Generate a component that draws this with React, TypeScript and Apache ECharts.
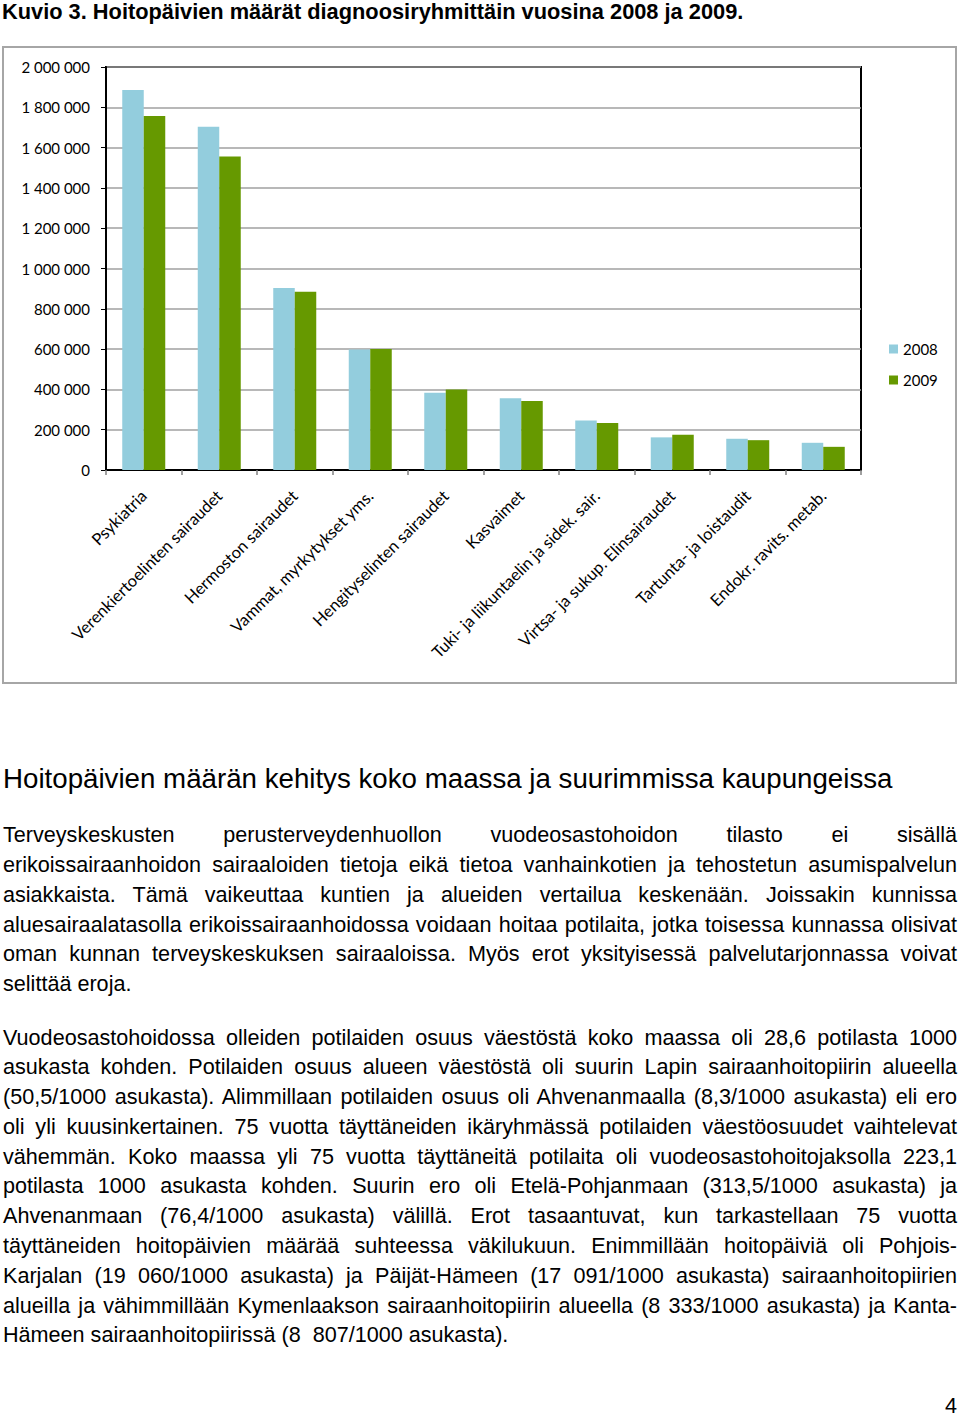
import React, { useEffect, useRef } from "react";
import * as echarts from "echarts";

const figureTitle = "Kuvio 3. Hoitopäivien määrät diagnoosiryhmittäin vuosina 2008 ja 2009.";
const categories = [
  "Psykiatria",
  "Verenkiertoelinten sairaudet",
  "Hermoston sairaudet",
  "Vammat, myrkytykset yms.",
  "Hengityselinten sairaudet",
  "Kasvaimet",
  "Tuki- ja liikuntaelin ja sidek. sair.",
  "Virtsa- ja sukup. Elinsairaudet",
  "Tartunta- ja loistaudit",
  "Endokr. ravits. metab.",
];
const seriesNames = ["2008", "2009"];
const values2008 = [1886000, 1704000, 903000, 598000, 383000, 356000, 246000, 162000, 155000, 135000];
const values2009 = [1757000, 1556000, 885000, 600000, 400000, 343000, 233000, 175000, 148000, 115000];
const yMin = 0;
const yMax = 2000000;
const yInterval = 200000;

const heading = "Hoitopäivien määrän kehitys koko maassa ja suurimmissa kaupungeissa";
const paragraph1 = [
  "Terveyskeskusten perusterveydenhuollon vuodeosastohoidon tilasto ei sisällä",
  "erikoissairaanhoidon sairaaloiden tietoja eikä tietoa vanhainkotien ja tehostetun asumispalvelun",
  "asiakkaista. Tämä vaikeuttaa kuntien ja alueiden vertailua keskenään. Joissakin kunnissa",
  "aluesairaalatasolla erikoissairaanhoidossa voidaan hoitaa potilaita, jotka toisessa kunnassa olisivat",
  "oman kunnan terveyskeskuksen sairaaloissa. Myös erot yksityisessä palvelutarjonnassa voivat",
  "selittää eroja.",
];
const paragraph2 = [
  "Vuodeosastohoidossa olleiden potilaiden osuus väestöstä koko maassa oli 28,6 potilasta 1000",
  "asukasta kohden. Potilaiden osuus alueen väestöstä oli suurin Lapin sairaanhoitopiirin alueella",
  "(50,5/1000 asukasta). Alimmillaan potilaiden osuus oli Ahvenanmaalla (8,3/1000 asukasta) eli ero",
  "oli yli kuusinkertainen. 75 vuotta täyttäneiden ikäryhmässä potilaiden väestöosuudet vaihtelevat",
  "vähemmän. Koko maassa yli 75 vuotta täyttäneitä potilaita oli vuodeosastohoitojaksolla 223,1",
  "potilasta 1000 asukasta kohden. Suurin ero oli Etelä-Pohjanmaan (313,5/1000 asukasta) ja",
  "Ahvenanmaan (76,4/1000 asukasta) välillä. Erot tasaantuvat, kun tarkastellaan 75 vuotta",
  "täyttäneiden hoitopäivien määrää suhteessa väkilukuun. Enimmillään hoitopäiviä oli Pohjois-",
  "Karjalan (19 060/1000 asukasta) ja Päijät-Hämeen (17 091/1000 asukasta) sairaanhoitopiirien",
  "alueilla ja vähimmillään Kymenlaakson sairaanhoitopiirin alueella (8 333/1000 asukasta) ja Kanta-",
  "Hämeen sairaanhoitopiirissä (8\u00a0 807/1000 asukasta).",
];
const pageNumber = "4";

const fmt = (v: number) => String(v).replace(/\B(?=(\d{3})+(?!\d))/g, " ");

function Chart() {
  const ref = useRef<HTMLDivElement>(null);
  useEffect(() => {
    if (!ref.current) return;
    const chart = echarts.init(ref.current, null, { renderer: "svg" });
    chart.setOption({
      animation: false,
      textStyle: { fontFamily: "Lato" },
      grid: {
        left: 106,
        right: 99,
        top: 67,
        height: 403,
        show: true,
        borderColor: "#000",
        borderWidth: 2,
        containLabel: false,
      },
      legend: {
        orient: "vertical",
        left: 889,
        top: 341.5,
        padding: 0,
        itemWidth: 9,
        itemHeight: 9,
        itemGap: 16,
        icon: "rect",
        textStyle: { fontFamily: "Lato", fontSize: 15, color: "#000" },
        data: seriesNames,
      },
      xAxis: {
        type: "category",
        data: categories,
        axisLine: { lineStyle: { color: "#000", width: 2 } },
        axisTick: { show: true, length: 5, lineStyle: { color: "#808080", width: 1.5 } },
        axisLabel: {
          rotate: 45,
          interval: 0,
          margin: 23,
          color: "#000",
          fontFamily: "Lato",
          fontSize: 16.5,
        },
      },
      yAxis: {
        type: "value",
        min: yMin,
        max: yMax,
        interval: yInterval,
        axisLine: { show: true, lineStyle: { color: "#000", width: 2 } },
        axisTick: { show: true, length: 5, lineStyle: { color: "#000", width: 1 } },
        axisLabel: {
          margin: 16,
          color: "#000",
          fontFamily: "Lato",
          fontSize: 15,
          formatter: (v: number) => fmt(v),
        },
        splitLine: { lineStyle: { color: "#a0a0a0", width: 1.5 } },
      },
      series: [
        {
          name: seriesNames[0],
          type: "bar",
          data: values2008,
          barWidth: 21.5,
          barGap: "0%",
          itemStyle: { color: "#93CDDD" },
        },
        {
          name: seriesNames[1],
          type: "bar",
          data: values2009,
          barWidth: 21.5,
          barGap: "0%",
          itemStyle: { color: "#669900" },
        },
      ],
      graphic: [
        {
          type: "rect",
          shape: { x: 3, y: 47, width: 953, height: 636 },
          style: { fill: "none", stroke: "#a6a6a6", lineWidth: 2 },
          silent: true,
        },
        {
          type: "text",
          x: 2,
          y: 11.5,
          style: {
            text: figureTitle,
            fontFamily: "Liberation Sans",
            fontWeight: "bold",
            fontSize: 21.8,
            fill: "#000",
            verticalAlign: "middle",
            align: "left",
          },
        },
      ],
    });
    return () => chart.dispose();
  }, []);
  return <div ref={ref} style={{ position: "absolute", left: 0, top: 0, width: 960, height: 700 }} />;
}

function Para({ lines, top }: { lines: string[]; top: number }) {
  return (
    <div style={{ position: "absolute", left: 3, top, width: 954 }}>
      {lines.map((l, i) => (
        <div
          key={i}
          style={{
            height: 29.8,
            lineHeight: "29.8px",
            fontFamily: "'Liberation Sans', Arial, sans-serif",
            fontSize: 21.6,
            color: "#000",
            textAlign: "justify",
            textAlignLast: i === lines.length - 1 ? "left" : "justify",
          }}
        >
          {l}
        </div>
      ))}
    </div>
  );
}

export default function App() {
  return (
    <div
      style={{
        position: "absolute",
        left: 0,
        top: 0,
        width: 960,
        height: 1418,
        background: "#fff",
        overflow: "hidden",
      }}
    >
      <Chart />
      <div
        style={{
          position: "absolute",
          left: 3,
          top: 761.5,
          lineHeight: "34px",
          fontFamily: "'Liberation Sans', Arial, sans-serif",
          fontSize: 27.7,
          color: "#000",
          whiteSpace: "nowrap",
        }}
      >
        {heading}
      </div>
      <Para lines={paragraph1} top={820.3} />
      <Para lines={paragraph2} top={1022.5} />
      <div
        style={{
          position: "absolute",
          right: 3,
          top: 1391,
          lineHeight: "29.8px",
          fontFamily: "'Liberation Sans', Arial, sans-serif",
          fontSize: 21.6,
          color: "#000",
        }}
      >
        {pageNumber}
      </div>
    </div>
  );
}
